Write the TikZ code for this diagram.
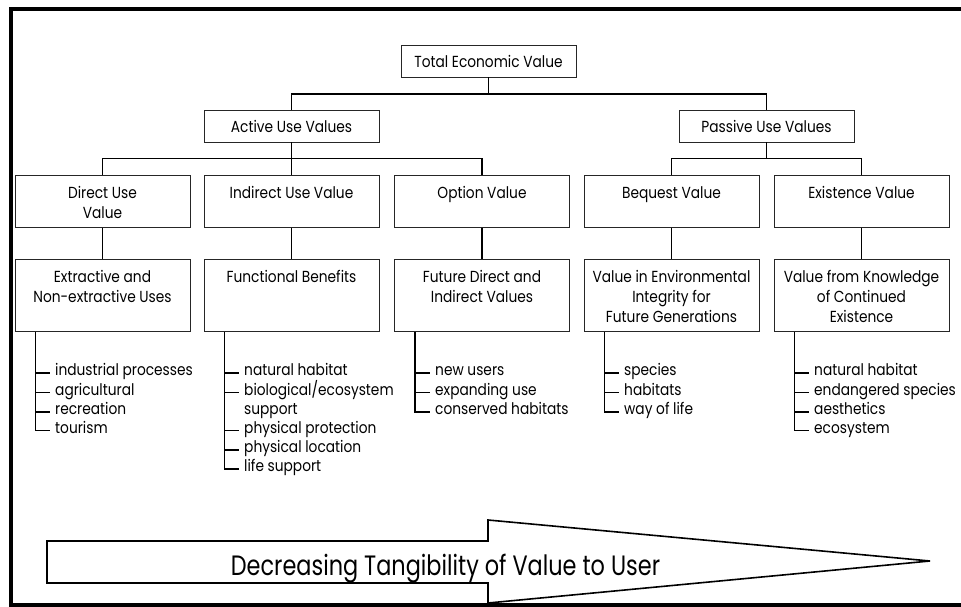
\documentclass[tikz,border=0pt]{standalone}
\usepackage{fontspec}
\setmainfont[FakeStretch=0.86]{Poppins}
\newfontfamily\arrowfont[FakeStretch=0.8]{Poppins}
\usepackage{tikz}
\usetikzlibrary{calc}

\newcommand{\boxtxt}[2]{\parbox[c][#1][t]{165pt}{\centering\vspace*{9pt}\strut#2}}

\begin{document}
\begin{tikzpicture}[x=1pt,y=-1pt,
		every node/.style={font=\fontsize{16}{20}\selectfont},
		valbox/.style={draw=black!85,line width=0.9pt,anchor=north,inner xsep=5pt,inner ysep=0pt},
		headbox/.style={draw=black!85,line width=0.9pt,minimum width=175pt,minimum height=32pt,inner sep=0pt},
		item/.style={anchor=mid west,inner xsep=5pt,inner ysep=1pt},
		link/.style={line width=1.8pt}]
		\useasboundingbox (0,0) rectangle (961,607);
		\draw[line width=4pt](961,9) -- (10.5,9) -- (10.5,605) -- (961,605);
		
		\node[headbox](tev) at (488.5,61) {Total Economic Value};
		\node[headbox](active) at (291.5,126) {Active Use Values};
		\node[headbox](passive) at (766.5,126) {Passive Use Values};
		
		\node[valbox](direct) at (102.5,175) {\boxtxt{52pt}{Direct Use\\Value}};
		\node[valbox](indirect) at (291.5,175) {\boxtxt{52pt}{Indirect Use Value}};
		\node[valbox](option) at (482,175) {\boxtxt{52pt}{Option Value}};
		\node[valbox](bequest) at (671.5,175) {\boxtxt{52pt}{Bequest Value}};
		\node[valbox](exist) at (861.5,175) {\boxtxt{52pt}{Existence Value}};
		
		\node[valbox](extract) at (102.5,259) {\boxtxt{72pt}{Extractive and\\Non-extractive Uses}};
		\node[valbox](benefit) at (291.5,259) {\boxtxt{72pt}{Functional Benefits}};
		\node[valbox](future) at (482,259) {\boxtxt{72pt}{Future Direct and\\Indirect Values}};
		\node[valbox](integr) at (671.5,259) {\boxtxt{72pt}{Value in Environmental\\Integrity for\\Future Generations}};
		\node[valbox](knowl) at (861.5,259) {\boxtxt{72pt}{Value from Knowledge\\of Continued\\Existence}};
		
		\draw[link](tev.south) -- ++(0,16.5) coordinate(tbar) -| (active.north);
		\draw[link](tbar) -| (passive.north);
		\draw[link](active.south) -- ++(0,16) coordinate(abar) -| (direct.north);
		\draw[link](abar) -| (option.north);
		\draw[link](abar) -- (indirect.north);
		\draw[link](passive.south) -- ++(0,16) coordinate(pbar) -| (bequest.north);
		\draw[link](pbar) -| (exist.north);
		
		\draw[link](direct.south) -- (extract.north);
		\draw[link](indirect.south) -- (benefit.north);
		\draw[link](option.south) -- (future.north);
		\draw[link](bequest.south) -- (integr.north);
		\draw[link](exist.south) -- (knowl.north);
		
		\node[item](d1) at (50,373) {industrial processes};
		\node[item](d2) at (50,392.5) {agricultural};
		\node[item](d3) at (50,412) {recreation};
		\node[item](d4) at (50,430.5) {tourism};
		\draw[link](extract.south west) ++(21,0) coordinate(dl) |- (d4.mid west);
		\draw[link](dl |- d1.mid west) -- (d1.mid west);
		\draw[link](dl |- d2.mid west) -- (d2.mid west);
		\draw[link](dl |- d3.mid west) -- (d3.mid west);
		
		\node[item](i1) at (239,373) {natural habitat};
		\node[item](i2) at (239,392.5) {biological/ecosystem};
		\node[item](i3) at (239,412) {support};
		\node[item](i4) at (239,430.5) {physical protection};
		\node[item](i5) at (239,450) {physical location};
		\node[item](i6) at (239,469) {life support};
		\draw[link](benefit.south west) ++(21,0) coordinate(il) |- (i6.mid west);
		\draw[link](il |- i1.mid west) -- (i1.mid west);
		\draw[link](il |- i2.mid west) -- (i2.mid west);
		\draw[link](il |- i4.mid west) -- (i4.mid west);
		\draw[link](il |- i5.mid west) -- (i5.mid west);
		
		\node[item](o1) at (430,373) {new users};
		\node[item](o2) at (430,392.5) {expanding use};
		\node[item](o3) at (430,412) {conserved habitats};
		\draw[link](future.south west) ++(21,0) coordinate(ol) |- (o3.mid west);
		\draw[link](ol |- o1.mid west) -- (o1.mid west);
		\draw[link](ol |- o2.mid west) -- (o2.mid west);
		
		\node[item](b1) at (619,373) {species};
		\node[item](b2) at (619,392.5) {habitats};
		\node[item](b3) at (619,412) {way of life};
		\draw[link](integr.south west) ++(21,0) coordinate(bl) |- (b3.mid west);
		\draw[link](bl |- b1.mid west) -- (b1.mid west);
		\draw[link](bl |- b2.mid west) -- (b2.mid west);
		
		\node[item](e1) at (809,373) {natural habitat};
		\node[item](e2) at (809,392.5) {endangered species};
		\node[item](e3) at (809,412) {aesthetics};
		\node[item](e4) at (809,430.5) {ecosystem};
		\draw[link](knowl.south west) ++(21,0) coordinate(el) |- (e4.mid west);
		\draw[link](el |- e1.mid west) -- (e1.mid west);
		\draw[link](el |- e2.mid west) -- (e2.mid west);
		\draw[link](el |- e3.mid west) -- (e3.mid west);
		
		\draw[line width=1.6pt](47,541) -- (488,541) -- (488,520) -- (930,561) -- (488,603) -- (488,583) -- (47,583) -- cycle;
		\node[anchor=base,font=\arrowfont\fontsize{28}{30}\selectfont](tang) at (445.5,575) {Decreasing Tangibility of Value to User};
	\end{tikzpicture}
\end{document}
